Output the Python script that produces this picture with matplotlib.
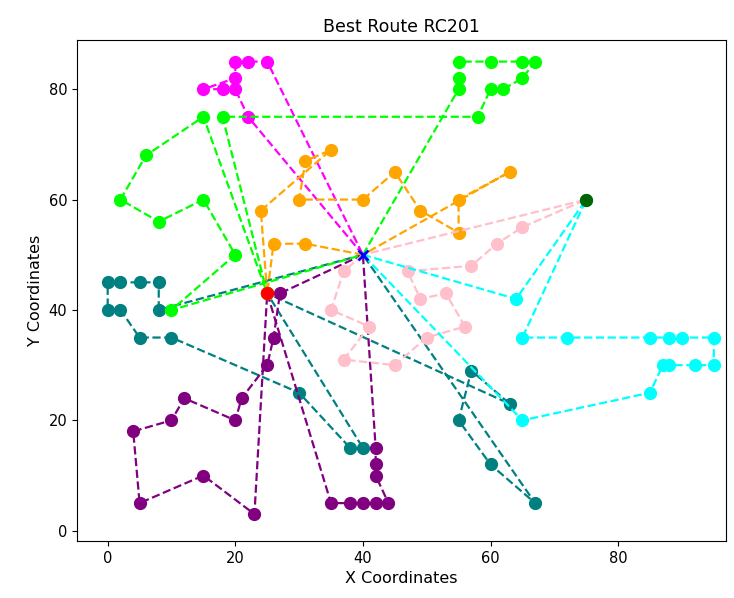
import matplotlib
matplotlib.use("Agg")
import matplotlib.pyplot as plt

# depot and the two charging stations
DEPOT = (40, 50)
STATION_RED = (25, 43)
STATION_GREEN = (75, 60)

# customers visited by each vehicle, in order (depot is added at both ends)
teal_x = [8, 8, 5, 2, 0, 0, 2, 5, 10, 30, 38, 40, 25, 63, 57, 55, 60, 67]
teal_y = [40, 45, 45, 45, 45, 40, 40, 35, 35, 25, 15, 15, 43, 23, 29, 20, 12, 5]

purple_x = [27, 26, 25, 21, 20, 12, 10, 4, 5, 15, 23, 25, 35, 38, 40, 42, 44, 42, 42, 42]
purple_y = [43, 35, 30, 24, 20, 24, 20, 18, 5, 10, 3, 43, 5, 5, 5, 5, 5, 10, 12, 15]

magenta_x = [22, 20, 18, 15, 20, 20, 22, 25]
magenta_y = [75, 80, 80, 80, 82, 85, 85, 85]

green_x = [55, 55, 55, 60, 65, 67, 65, 62, 60, 58, 18, 25, 15, 6, 2, 8, 15, 20, 10]
green_y = [80, 82, 85, 85, 85, 85, 82, 80, 80, 75, 75, 43, 75, 68, 60, 56, 60, 50, 40]

orange_x = [31, 26, 25, 24, 35, 31, 30, 40, 45, 49, 55, 55, 63]
orange_y = [52, 52, 43, 58, 69, 67, 60, 60, 65, 58, 54, 60, 65]

pink_x = [37, 35, 41, 37, 45, 50, 56, 53, 49, 47, 57, 61, 65, 75]
pink_y = [47, 40, 37, 31, 30, 35, 37, 43, 42, 47, 48, 52, 55, 60]

cyan_x = [64, 75, 65, 72, 85, 88, 90, 95, 95, 92, 88, 87, 85, 65]
cyan_y = [42, 60, 35, 35, 35, 35, 35, 35, 30, 30, 30, 30, 25, 20]

ROUTES = [
    (teal_x, teal_y, "teal"),
    (purple_x, purple_y, "purple"),
    (magenta_x, magenta_y, "magenta"),
    (green_x, green_y, "lime"),
    (orange_x, orange_y, "orange"),
    (pink_x, pink_y, "pink"),
    (cyan_x, cyan_y, "cyan"),
]

fig, axes = plt.subplots(figsize=(7.34, 5.98), dpi=100)

for xs, ys, color in ROUTES:
    path_x = [DEPOT[0]] + xs + [DEPOT[0]]
    path_y = [DEPOT[1]] + ys + [DEPOT[1]]
    axes.plot(path_x, path_y, linestyle="--", color=color, linewidth=1.6)
    axes.plot(xs, ys, "o", color=color, markersize=8.5)

axes.plot(STATION_RED[0], STATION_RED[1], "o", color="red", markersize=8.5)
axes.plot(STATION_GREEN[0], STATION_GREEN[1], "o", color="darkgreen", markersize=8.5)
axes.plot(DEPOT[0], DEPOT[1], "x", color="blue", markersize=7, markeredgewidth=2)

axes.set_xlim(-4.8, 96.9)
axes.set_ylim(-1.9, 88.9)
axes.set_xticks([0, 20, 40, 60, 80])
axes.set_yticks([0, 20, 40, 60, 80])
axes.tick_params(labelsize=10.5)
axes.set_title("Best Route RC201", fontsize=12.5)
axes.set_xlabel("X Coordinates", fontsize=11.5)
axes.set_ylabel("Y Coordinates", fontsize=11.5)

fig.subplots_adjust(left=0.105, right=0.989, bottom=0.095, top=0.933)
fig.savefig("out.png")
